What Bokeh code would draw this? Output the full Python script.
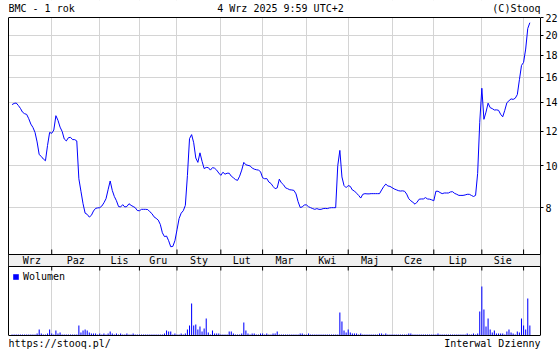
import math
from bokeh.plotting import figure
from bokeh.models import (Range1d, LinearScale, FixedTicker, PrintfTickFormatter, Label,
                          LabelSet, BoxAnnotation, ColumnDataSource, Legend, LegendItem,
                          LogAxis, Span)
from bokeh.core.properties import value
from bokeh.embed import file_html
from bokeh.resources import INLINE

# ---- data ----
price = [
    13.84, 13.93, 13.96, 13.78, 13.57, 13.30, 13.19, 13.14, 12.84, 12.48,
    12.26, 11.94, 11.35, 10.61, 10.51, 10.36, 10.27, 11.14, 11.94, 11.88,
    12.09, 13.05, 12.73, 12.28, 12.00, 11.53, 11.41, 11.61, 11.63, 11.49,
    11.49, 11.41, 9.33, 8.73, 8.17, 7.77, 7.72, 7.61, 7.68, 7.86,
    7.97, 7.99, 8.00, 8.07, 8.21, 8.39, 8.80, 9.22, 8.77, 8.49,
    8.30, 8.05, 8.03, 8.13, 8.03, 8.05, 8.17, 8.10, 8.05, 8.00,
    7.88, 7.87, 7.93, 7.93, 7.93, 7.92, 7.83, 7.75, 7.62, 7.56,
    7.49, 7.32, 7.00, 6.86, 6.88, 6.71, 6.50, 6.51, 6.71, 7.11,
    7.55, 7.77, 7.87, 8.10, 9.50, 11.55, 11.80, 11.30, 10.42, 10.18,
    10.71, 10.24, 9.85, 9.91, 9.90, 9.77, 9.90, 9.87, 9.77, 9.62,
    9.50, 9.66, 9.56, 9.61, 9.61, 9.46, 9.38, 9.29, 9.25, 9.46,
    9.77, 10.18, 10.05, 10.02, 9.99, 9.88, 9.82, 9.79, 9.77, 9.69,
    9.38, 9.33, 9.34, 9.17, 9.10, 8.96, 8.85, 8.89, 9.31, 9.13,
    9.04, 8.89, 8.85, 8.80, 8.79, 8.77, 8.61, 8.26, 8.01, 8.03,
    8.12, 8.12, 8.04, 8.00, 7.96, 7.93, 7.96, 7.93, 7.93, 7.96,
    7.97, 7.96, 7.99, 8.00, 8.00, 8.00, 10.00, 10.85, 9.42, 9.00,
    8.90, 9.00, 8.96, 8.79, 8.74, 8.64, 8.54, 8.42, 8.59, 8.62,
    8.61, 8.61, 8.62, 8.62, 8.62, 8.62, 8.62, 8.79, 8.95, 9.07,
    8.98, 8.96, 8.90, 8.84, 8.80, 8.76, 8.74, 8.75, 8.73, 8.60,
    8.39, 8.30, 8.23, 8.15, 8.24, 8.37, 8.38, 8.38, 8.44, 8.38,
    8.37, 8.34, 8.30, 8.73, 8.73, 8.67, 8.62, 8.65, 8.65, 8.65,
    8.70, 8.71, 8.63, 8.59, 8.54, 8.54, 8.54, 8.56, 8.59, 8.59,
    8.54, 8.49, 8.54, 9.60, 12.60, 15.10, 12.80, 13.30, 13.95, 13.62,
    13.55, 13.45, 13.46, 13.43, 13.15, 12.97, 13.43, 13.98, 14.13, 14.27,
    14.23, 14.32, 14.60, 15.80, 17.05, 17.33, 18.60, 20.75, 21.40,
]

volume = [
    1, 1, 1, 1, 1, 1, 1, 1, 1, 1,
    1, 1, 2, 6, 2, 1, 1, 2, 6, 2,
    1, 5, 2, 3, 1, 1, 1, 1, 1, 1,
    1, 1, 10, 3, 5, 6, 5, 3, 2, 2,
    2, 1, 2, 1, 2, 1, 2, 4, 2, 1,
    2, 1, 2, 1, 1, 2, 1, 1, 2, 1,
    1, 1, 1, 1, 1, 1, 1, 1, 1, 1,
    1, 1, 1, 2, 5, 4, 4, 1, 2, 1,
    1, 2, 1, 2, 6, 10, 32, 10, 11, 6,
    9, 4, 7, 17, 3, 1, 5, 2, 2, 2,
    1, 1, 1, 1, 4, 4, 2, 1, 1, 1,
    2, 13, 5, 2, 1, 2, 2, 1, 1, 2,
    2, 1, 2, 1, 1, 2, 2, 4, 1, 1,
    1, 1, 1, 1, 1, 1, 1, 1, 2, 2,
    1, 1, 2, 1, 1, 1, 1, 1, 1, 1,
    1, 1, 1, 1, 1, 1, 1, 23, 14, 5,
    3, 6, 3, 2, 2, 2, 1, 2, 1, 1,
    1, 1, 1, 1, 1, 1, 2, 2, 1, 2,
    1, 1, 1, 1, 1, 1, 1, 1, 1, 1,
    2, 2, 1, 1, 1, 1, 1, 1, 1, 1,
    1, 1, 1, 1, 2, 1, 1, 1, 1, 1,
    1, 1, 1, 1, 1, 1, 1, 1, 2, 1,
    1, 2, 1, 2, 24, 49, 26, 9, 17, 6,
    3, 5, 2, 2, 2, 2, 1, 4, 6, 3,
    2, 1, 4, 3, 17, 10, 6, 37, 10,
]

month_labels = ["Wrz", "Paz", "Lis", "Gru", "Sty", "Lut", "Mar", "Kwi", "Maj", "Cze", "Lip", "Sie"]
month_starts = [0, 19, 42, 61, 79, 100, 120, 141, 161, 182, 202, 225, 245]
price_ticks = [8, 10, 12, 14, 16, 18, 20, 22]

title_left = "BMC - 1 rok"
title_center = "4 Wrz 2025 9:59 UTC+2"
title_right = "(C)Stooq"
foot_left = "https://stooq.pl/"
foot_right = "Interwal Dzienny"
legend_label = "Wolumen"

# ---- layout constants (canvas pixels) ----
W, H = 560, 350
FL, FR = 8, 542            # chart box left / right
BOX_TOP, BOX_BOT = 17, 335  # chart box top / bottom
BAND_TOP, BAND_BOT = 254, 266
TITLE_MID, FOOT_MID = 8, 343
PX_PER_LN = 188.0
PRICE_TOP = 22.0           # price at BOX_TOP
TALLEST_BAR_PX = 49.0
FONT = "DejaVu Sans Mono"
BLUE = "#0000ff"
GRID = "#d4d4d4"


def sy(c):
    """canvas y (from top) -> screen units measured up from frame bottom"""
    return H - c


# frame covers the whole canvas height, so texts in the top/bottom strips are not clipped
price_lo = PRICE_TOP * math.exp(-(H - BOX_TOP) / PX_PER_LN)
price_hi = PRICE_TOP * math.exp(BOX_TOP / PX_PER_LN)
price_box_bot = PRICE_TOP * math.exp(-(BOX_BOT - BOX_TOP) / PX_PER_LN)
px2vol = max(volume) / TALLEST_BAR_PX
vol_lo = -(H - BOX_BOT) * px2vol
vol_hi = BOX_BOT * px2vol

idx = list(range(len(price)))

p = figure(width=W, height=H, output_backend="svg", toolbar_location=None,
           x_range=Range1d(-1.7, 253.1), y_range=Range1d(price_lo, price_hi),
           y_axis_type="log", y_axis_location="right", x_axis_location=None,
           min_border_left=FL, min_border_right=W - FR,
           min_border_top=0, min_border_bottom=0)
p.extra_y_ranges = {"vol": Range1d(vol_lo, vol_hi)}
p.extra_y_scales = {"vol": LinearScale()}
p.background_fill_color = "white"
p.border_fill_color = "white"
p.outline_line_color = None

p.xgrid.ticker = FixedTicker(ticks=month_starts[1:])
p.ygrid.ticker = FixedTicker(ticks=price_ticks)
p.grid.grid_line_color = GRID
p.grid.grid_line_width = 1

ax = p.yaxis[0]
ax.bounds = (price_box_bot, PRICE_TOP)
ax.ticker = FixedTicker(ticks=price_ticks)
ax.formatter = PrintfTickFormatter(format="%d")
ax.major_tick_out = 3
ax.major_tick_in = 0
ax.minor_tick_out = 0
ax.minor_tick_in = 0
ax.axis_line_color = "black"
ax.major_tick_line_color = "black"
ax.major_label_text_font = FONT
ax.major_label_text_font_size = "10px"
ax.major_label_text_color = "black"
ax.major_label_standoff = 2

left_ax = LogAxis(bounds=(price_box_bot, PRICE_TOP), ticker=FixedTicker(ticks=[]),
                  major_tick_in=0, major_tick_out=0, minor_tick_in=0, minor_tick_out=0,
                  major_label_text_font_size="0px", major_label_standoff=0,
                  axis_line_color="black")
p.add_layout(left_ax, "left")

# price line
p.line(idx, price, line_color=BLUE, line_width=1)

# volume bars
src_v = ColumnDataSource(dict(x=idx, v=volume))
vb = p.vbar(x="x", top="v", bottom=0, width=0.5, y_range_name="vol",
            fill_color=BLUE, line_color=None, source=src_v)

# white strips above / below the chart box (hide grid lines there)
p.add_layout(BoxAnnotation(bottom=sy(BOX_TOP), top=sy(0), bottom_units="screen",
                           top_units="screen", fill_color="white", fill_alpha=1,
                           line_color=None))
p.add_layout(BoxAnnotation(bottom=sy(H), top=sy(BOX_BOT), bottom_units="screen",
                           top_units="screen", fill_color="white", fill_alpha=1,
                           line_color=None))

# month band between panels
p.add_layout(BoxAnnotation(bottom=sy(BAND_BOT), top=sy(BAND_TOP),
                           bottom_units="screen", top_units="screen",
                           fill_color="#f0f0f0", fill_alpha=1,
                           line_color="black", line_width=1, line_alpha=1))

# top and bottom edges of the chart box
p.add_layout(Span(location=PRICE_TOP, dimension="width", line_color="black", line_width=1))
p.add_layout(Span(location=0, dimension="width", y_range_name="vol",
                  line_color="black", line_width=1))

bounds = month_starts[1:]
p.segment(x0=bounds, x1=bounds, y0=[(BOX_BOT - BAND_TOP) * px2vol] * len(bounds),
          y1=[(BOX_BOT - BAND_TOP + 5) * px2vol] * len(bounds), y_range_name="vol",
          line_color="black", line_width=1)
p.segment(x0=bounds, x1=bounds, y0=[(BOX_BOT - BAND_BOT - 4) * px2vol] * len(bounds),
          y1=[(BOX_BOT - BAND_BOT) * px2vol] * len(bounds), y_range_name="vol",
          line_color="black", line_width=1)

mids = [(month_starts[k] + month_starts[k + 1]) / 2 for k in range(len(month_labels))]
src_m = ColumnDataSource(dict(x=mids, t=month_labels))
p.add_layout(LabelSet(x="x", y=sy((BAND_TOP + BAND_BOT) / 2), y_units="screen", text="t",
                      source=src_m, text_align="center", text_baseline="middle",
                      text_font=value(FONT), text_font_size="10px", text_color="black"))

# legend for volume
leg = Legend(items=[LegendItem(label=legend_label, renderers=[vb])], location=(4, sy(282)),
             glyph_width=7, glyph_height=7, label_height=10, label_width=10,
             label_standoff=4, padding=0, margin=0, spacing=0,
             border_line_color=None, background_fill_alpha=0,
             label_text_font=FONT, label_text_font_size="10px", label_text_color="black")
p.add_layout(leg)


def add_text(text, x, mid_canvas_y, align):
    p.add_layout(Label(x=x, y=sy(mid_canvas_y), x_units="screen", y_units="screen",
                       text=text, text_align=align, text_baseline="middle",
                       text_font=FONT, text_font_size="10px", text_color="black"))


add_text(title_left, 0, TITLE_MID, "left")
add_text(title_center, W / 2 - FL, TITLE_MID, "center")
add_text(title_right, FR - FL - 2, TITLE_MID, "right")
add_text(foot_left, 0, FOOT_MID, "left")
add_text(foot_right, FR - FL - 2, FOOT_MID, "right")

open("out.html", "w").write(file_html(p, INLINE))
